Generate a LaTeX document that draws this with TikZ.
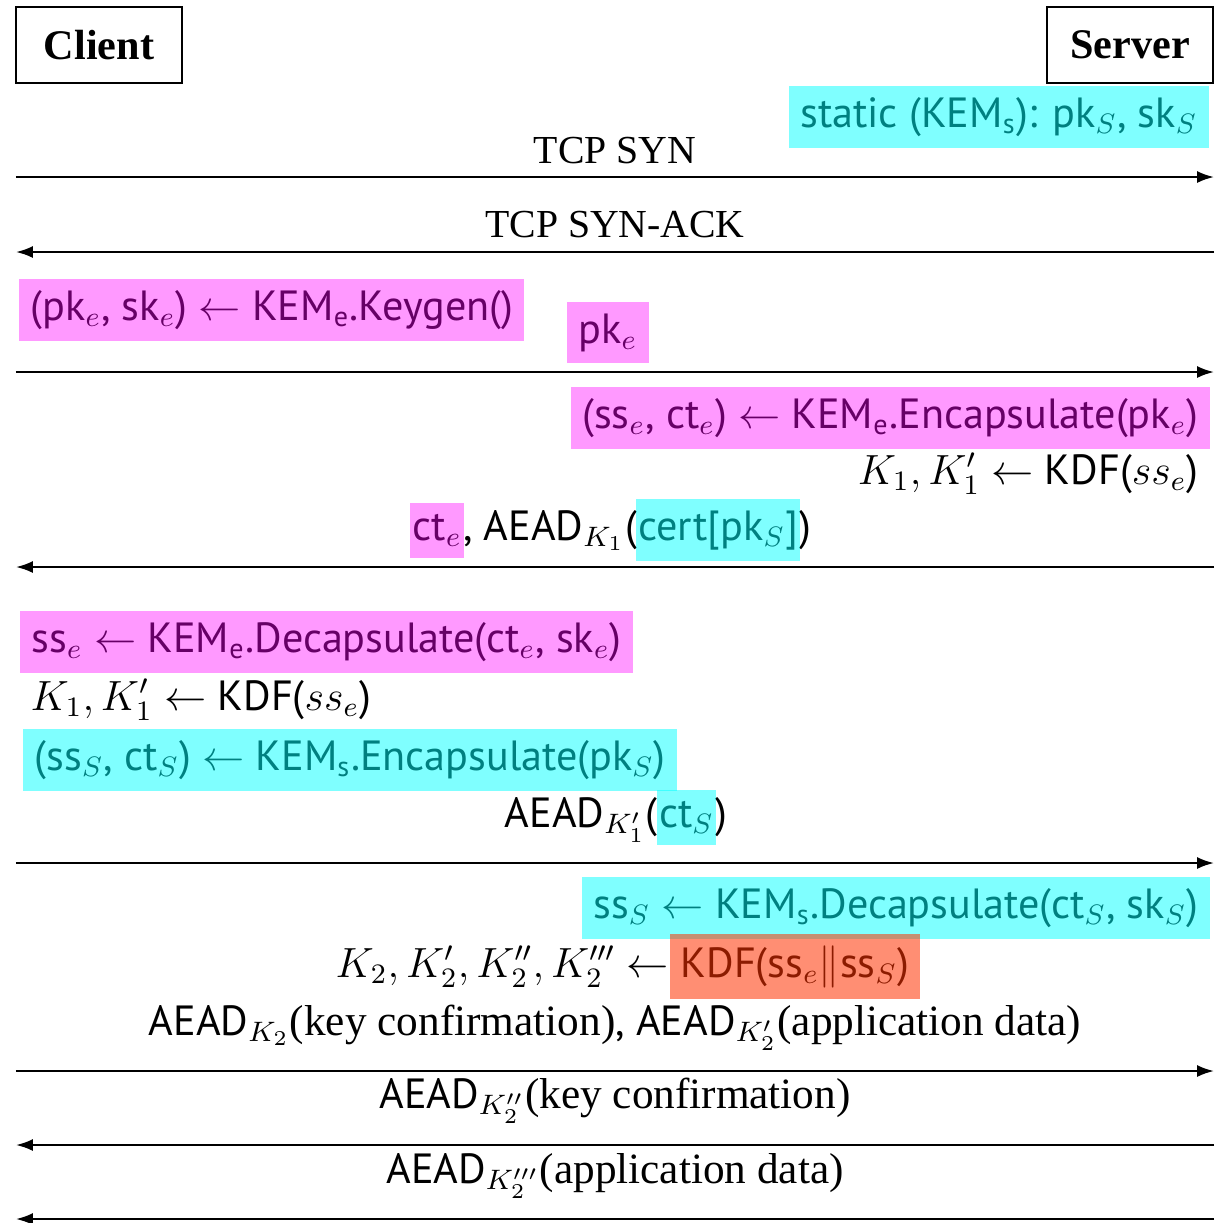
\documentclass[tikz,border=0pt]{standalone}
\usepackage{amsmath}
\usepackage{fontspec}
\setmainfont{Liberation Serif}
\setsansfont{PT Sans}
\usetikzlibrary{arrows.meta,positioning,fit}

\definecolor{hlpink}{RGB}{255,0,255}
\definecolor{hlcyan}{RGB}{0,255,255}
\definecolor{hlred}{RGB}{255,50,0}

\newcommand{\msgfont}{\fontsize{11.3}{13}\selectfont}
\newcommand{\calcfont}{\fontsize{12}{14}\selectfont\sffamily}
\newcommand{\plain}{\rmfamily\fontsize{12.3}{14}\selectfont}

\tikzset{
  party/.style={draw, line width=0.5pt, minimum width=1.66cm, minimum height=0.76cm,
    inner sep=0pt, font=\fontsize{12}{14}\selectfont\bfseries},
  msg/.style={inner sep=0pt, font=\msgfont},
  calc/.style={inner sep=0pt, font=\calcfont},
  flow/.style={line width=0.6pt, -{Latex[length=4.8pt,width=3.4pt]}},
  hlpinkbox/.style={fill=hlpink, fill opacity=0.4, inner xsep=3pt, inner ysep=3pt},
  hlcyanbox/.style={fill=hlcyan, fill opacity=0.5, inner xsep=3pt, inner ysep=3pt},
  hlredbox/.style={fill=hlred, fill opacity=0.55, inner xsep=3pt, inner ysep=3pt},
  tight/.style={inner xsep=0.5pt}
}

\begin{document}
\begin{tikzpicture}[x=0.01cm, y=-0.01cm]
  \useasboundingbox (0,0) rectangle (1220,1223);

  % parties
  \node[party] (client) at (99,45) {Client};
  \node[party] (server) at (1130,45) {Server};

  % lifeline end points of every message
  \foreach \y [count=\i] in {177,252,372,567,863,1071,1145,1219} {
    \coordinate (c\i) at (16,\y);
    \coordinate (s\i) at (1214,\y);
  }

  % texts
  \node[calc, anchor=base east] (static) at (1198,127) {static (KEM$_\text{s}$): pk$_S$, sk$_S$};
  \node[msg, anchor=base] (syn) at (615,163) {TCP SYN};
  \node[msg, anchor=base] (synack) at (615,237) {TCP SYN-ACK};
  \node[calc, anchor=base west] (keygen) at (30,320) {(pk$_e$, sk$_e$) $\leftarrow$ KEM$_\text{e}$.Keygen()};
  \node[calc, anchor=base] (pke) at (608,343) {pk$_e$};
  \node[calc, anchor=base east] (encape) at (1199,428) {(ss$_e$, ct$_e$) $\leftarrow$ KEM$_\text{e}$.Encapsulate(pk$_e$)};
  \node[calc, anchor=base east] (kdfsrv) at (1199,484) {$K_1, K_1'$ $\leftarrow$ KDF($ss_e$)};
  \node[calc, anchor=base west] (cte) at (412,540) {ct$_e$};
  \node[calc, anchor=base west] (aeadone) at (cte.base east) {, AEAD$_{K_1}$(};
  \node[calc, anchor=base west] (cert) at (aeadone.base east) {cert[pk$_S$]};
  \node[calc, anchor=base west] (certend) at (cert.base east) {)};
  \node[calc, anchor=base west] (decape) at (31,652) {ss$_e$ $\leftarrow$ KEM$_\text{e}$.Decapsulate(ct$_e$, sk$_e$)};
  \node[calc, anchor=base west] (kdfcli) at (30,710) {$K_1, K_1'$ $\leftarrow$ KDF($ss_e$)};
  \node[calc, anchor=base west] (encaps) at (34,770) {(ss$_S$, ct$_S$) $\leftarrow$ KEM$_\text{s}$.Encapsulate(pk$_S$)};
  \node[calc, anchor=base west] (aeadtwo) at (504,827) {AEAD$_{K_1'}$(};
  \node[calc, anchor=base west] (cts) at (aeadtwo.base east) {ct$_S$};
  \node[calc, anchor=base west] (ctsend) at (cts.base east) {)};
  \node[calc, anchor=base east] (decaps) at (1199,918) {ss$_S$ $\leftarrow$ KEM$_\text{s}$.Decapsulate(ct$_S$, sk$_S$)};
  \node[calc, anchor=base west] (ktwo) at (335,977) {$K_2, K_2', K_2'', K_2'''$ $\leftarrow$};
  \node[calc, anchor=base west] (kdfmix) at ([xshift=3pt]ktwo.base east) {KDF(ss$_e\|$ss$_S$)};
  \node[calc, anchor=base] (final) at (615,1035) {AEAD$_{K_2}${\plain(key confirmation)}, AEAD$_{K_2'}${\plain(application data)}};
  \node[calc, anchor=base] (confirm) at (615,1108) {AEAD$_{K_2''}${\plain(key confirmation)}};
  \node[calc, anchor=base] (appdata) at (615,1183) {AEAD$_{K_2'''}${\plain(application data)}};

  % messages
  \draw[flow] (c1) -- (s1);
  \draw[flow] (s2) -- (c2);
  \draw[flow] (c3) -- (s3);
  \draw[flow] (s4) -- (c4);
  \draw[flow] (c5) -- (s5);
  \draw[flow] (c6) -- (s6);
  \draw[flow] (s7) -- (c7);
  \draw[flow] (s8) -- (c8);

  % highlights
  \node[hlcyanbox, fit=(static)] (hlstatic) {};
  \node[hlpinkbox, fit=(keygen)] (hlkeygen) {};
  \node[hlpinkbox, fit=(pke)] (hlpke) {};
  \node[hlpinkbox, fit=(encape)] (hlencape) {};
  \node[hlpinkbox, tight, fit=(cte)] (hlcte) {};
  \node[hlcyanbox, tight, fit=(cert)] (hlcert) {};
  \node[hlpinkbox, fit=(decape)] (hldecape) {};
  \node[hlcyanbox, fit=(encaps)] (hlencaps) {};
  \node[hlcyanbox, tight, fit=(cts)] (hlcts) {};
  \node[hlcyanbox, fit=(decaps)] (hldecaps) {};
  \node[hlredbox, fit=(kdfmix)] (hlkdfmix) {};
\end{tikzpicture}
\end{document}
